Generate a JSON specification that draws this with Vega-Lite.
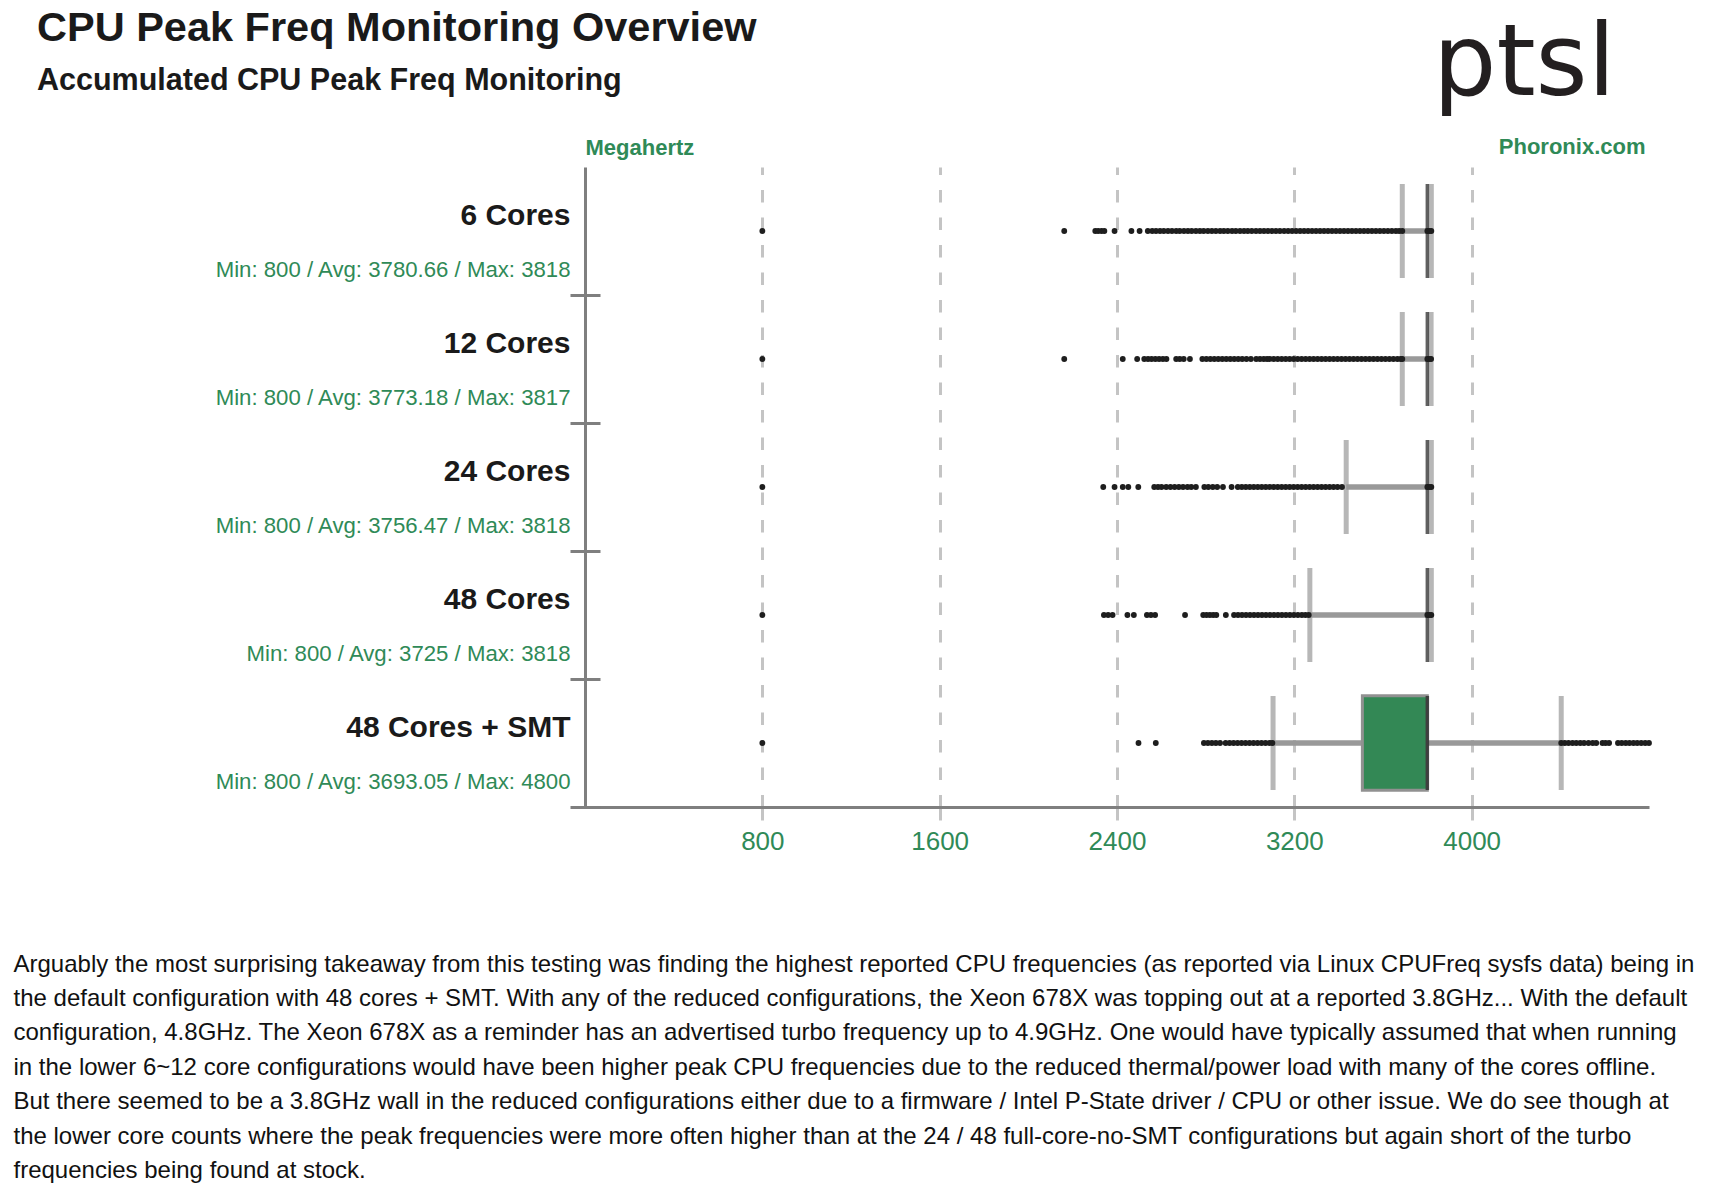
{
  "$schema": "https://vega.github.io/schema/vega-lite/v6.json",
  "width": 1064,
  "height": 640,
  "autosize": {"type": "none"},
  "padding": {"left": 585, "top": 167, "right": 62, "bottom": 387},
  "background": "white",
  "title": {
    "text": "CPU Peak Freq Monitoring Overview",
    "subtitle": "Accumulated CPU Peak Freq Monitoring",
    "anchor": "start",
    "frame": "group",
    "dx": -548,
    "offset": -82,
    "font": "Liberation Sans",
    "fontSize": 41.5,
    "fontWeight": "bold",
    "color": "#1a1a1a",
    "subtitleFont": "Liberation Sans",
    "subtitleFontSize": 30.5,
    "subtitleFontWeight": "bold",
    "subtitleColor": "#1a1a1a",
    "subtitlePadding": 16
  },
  "datasets": {
    "stats": [
      {"config": "6 Cores", "lo": 3687, "q1": 3800, "med": 3800, "q3": 3800, "hi": 3818},
      {"config": "12 Cores", "lo": 3687, "q1": 3800, "med": 3800, "q3": 3800, "hi": 3817},
      {"config": "24 Cores", "lo": 3434, "q1": 3800, "med": 3800, "q3": 3800, "hi": 3818},
      {"config": "48 Cores", "lo": 3270, "q1": 3800, "med": 3800, "q3": 3800, "hi": 3818},
      {"config": "48 Cores + SMT", "lo": 3104, "q1": 3507, "med": 3800, "q3": 3800, "hi": 4404}
    ],
    "pts": [
      {"config": "6 Cores", "mhz": 800}, {"config": "6 Cores", "mhz": 2162}, {"config": "6 Cores", "mhz": 2302}, {"config": "6 Cores", "mhz": 2315},
      {"config": "6 Cores", "mhz": 2330}, {"config": "6 Cores", "mhz": 2343}, {"config": "6 Cores", "mhz": 2389}, {"config": "6 Cores", "mhz": 2465},
      {"config": "6 Cores", "mhz": 2502}, {"config": "6 Cores", "mhz": 2539}, {"config": "6 Cores", "mhz": 2559}, {"config": "6 Cores", "mhz": 2576},
      {"config": "6 Cores", "mhz": 2594}, {"config": "6 Cores", "mhz": 2611}, {"config": "6 Cores", "mhz": 2630}, {"config": "6 Cores", "mhz": 2648},
      {"config": "6 Cores", "mhz": 2667}, {"config": "6 Cores", "mhz": 2683}, {"config": "6 Cores", "mhz": 2702}, {"config": "6 Cores", "mhz": 2720},
      {"config": "6 Cores", "mhz": 2737}, {"config": "6 Cores", "mhz": 2756}, {"config": "6 Cores", "mhz": 2774}, {"config": "6 Cores", "mhz": 2791},
      {"config": "6 Cores", "mhz": 2810}, {"config": "6 Cores", "mhz": 2828}, {"config": "6 Cores", "mhz": 2846}, {"config": "6 Cores", "mhz": 2865},
      {"config": "6 Cores", "mhz": 2882}, {"config": "6 Cores", "mhz": 2900}, {"config": "6 Cores", "mhz": 2919}, {"config": "6 Cores", "mhz": 2936},
      {"config": "6 Cores", "mhz": 2955}, {"config": "6 Cores", "mhz": 2973}, {"config": "6 Cores", "mhz": 2990}, {"config": "6 Cores", "mhz": 3008},
      {"config": "6 Cores", "mhz": 3027}, {"config": "6 Cores", "mhz": 3045}, {"config": "6 Cores", "mhz": 3063}, {"config": "6 Cores", "mhz": 3081},
      {"config": "6 Cores", "mhz": 3099}, {"config": "6 Cores", "mhz": 3117}, {"config": "6 Cores", "mhz": 3135}, {"config": "6 Cores", "mhz": 3154},
      {"config": "6 Cores", "mhz": 3172}, {"config": "6 Cores", "mhz": 3190}, {"config": "6 Cores", "mhz": 3208}, {"config": "6 Cores", "mhz": 3226},
      {"config": "6 Cores", "mhz": 3244}, {"config": "6 Cores", "mhz": 3262}, {"config": "6 Cores", "mhz": 3280}, {"config": "6 Cores", "mhz": 3298},
      {"config": "6 Cores", "mhz": 3316}, {"config": "6 Cores", "mhz": 3334}, {"config": "6 Cores", "mhz": 3352}, {"config": "6 Cores", "mhz": 3370},
      {"config": "6 Cores", "mhz": 3388}, {"config": "6 Cores", "mhz": 3406}, {"config": "6 Cores", "mhz": 3424}, {"config": "6 Cores", "mhz": 3442},
      {"config": "6 Cores", "mhz": 3460}, {"config": "6 Cores", "mhz": 3478}, {"config": "6 Cores", "mhz": 3496}, {"config": "6 Cores", "mhz": 3514},
      {"config": "6 Cores", "mhz": 3532}, {"config": "6 Cores", "mhz": 3550}, {"config": "6 Cores", "mhz": 3568}, {"config": "6 Cores", "mhz": 3586},
      {"config": "6 Cores", "mhz": 3604}, {"config": "6 Cores", "mhz": 3622}, {"config": "6 Cores", "mhz": 3640}, {"config": "6 Cores", "mhz": 3658},
      {"config": "6 Cores", "mhz": 3673}, {"config": "6 Cores", "mhz": 3687}, {"config": "6 Cores", "mhz": 3800}, {"config": "6 Cores", "mhz": 3809},
      {"config": "6 Cores", "mhz": 3818},

      {"config": "12 Cores", "mhz": 800}, {"config": "12 Cores", "mhz": 2162}, {"config": "12 Cores", "mhz": 2426}, {"config": "12 Cores", "mhz": 2491},
      {"config": "12 Cores", "mhz": 2523}, {"config": "12 Cores", "mhz": 2540}, {"config": "12 Cores", "mhz": 2556}, {"config": "12 Cores", "mhz": 2573},
      {"config": "12 Cores", "mhz": 2590}, {"config": "12 Cores", "mhz": 2607}, {"config": "12 Cores", "mhz": 2623}, {"config": "12 Cores", "mhz": 2667},
      {"config": "12 Cores", "mhz": 2683}, {"config": "12 Cores", "mhz": 2701}, {"config": "12 Cores", "mhz": 2729}, {"config": "12 Cores", "mhz": 2785},
      {"config": "12 Cores", "mhz": 2803}, {"config": "12 Cores", "mhz": 2821}, {"config": "12 Cores", "mhz": 2839}, {"config": "12 Cores", "mhz": 2857},
      {"config": "12 Cores", "mhz": 2875}, {"config": "12 Cores", "mhz": 2893}, {"config": "12 Cores", "mhz": 2911}, {"config": "12 Cores", "mhz": 2929},
      {"config": "12 Cores", "mhz": 2947}, {"config": "12 Cores", "mhz": 2965}, {"config": "12 Cores", "mhz": 2984}, {"config": "12 Cores", "mhz": 3004},
      {"config": "12 Cores", "mhz": 3028}, {"config": "12 Cores", "mhz": 3045}, {"config": "12 Cores", "mhz": 3062}, {"config": "12 Cores", "mhz": 3077},
      {"config": "12 Cores", "mhz": 3089}, {"config": "12 Cores", "mhz": 3107}, {"config": "12 Cores", "mhz": 3125}, {"config": "12 Cores", "mhz": 3143},
      {"config": "12 Cores", "mhz": 3161}, {"config": "12 Cores", "mhz": 3179}, {"config": "12 Cores", "mhz": 3197}, {"config": "12 Cores", "mhz": 3215},
      {"config": "12 Cores", "mhz": 3233}, {"config": "12 Cores", "mhz": 3251}, {"config": "12 Cores", "mhz": 3269}, {"config": "12 Cores", "mhz": 3287},
      {"config": "12 Cores", "mhz": 3305}, {"config": "12 Cores", "mhz": 3323}, {"config": "12 Cores", "mhz": 3341}, {"config": "12 Cores", "mhz": 3359},
      {"config": "12 Cores", "mhz": 3377}, {"config": "12 Cores", "mhz": 3395}, {"config": "12 Cores", "mhz": 3413}, {"config": "12 Cores", "mhz": 3431},
      {"config": "12 Cores", "mhz": 3449}, {"config": "12 Cores", "mhz": 3467}, {"config": "12 Cores", "mhz": 3485}, {"config": "12 Cores", "mhz": 3503},
      {"config": "12 Cores", "mhz": 3521}, {"config": "12 Cores", "mhz": 3539}, {"config": "12 Cores", "mhz": 3557}, {"config": "12 Cores", "mhz": 3575},
      {"config": "12 Cores", "mhz": 3593}, {"config": "12 Cores", "mhz": 3611}, {"config": "12 Cores", "mhz": 3629}, {"config": "12 Cores", "mhz": 3647},
      {"config": "12 Cores", "mhz": 3665}, {"config": "12 Cores", "mhz": 3680}, {"config": "12 Cores", "mhz": 3687}, {"config": "12 Cores", "mhz": 3800},
      {"config": "12 Cores", "mhz": 3809}, {"config": "12 Cores", "mhz": 3817},

      {"config": "24 Cores", "mhz": 800}, {"config": "24 Cores", "mhz": 2338}, {"config": "24 Cores", "mhz": 2389}, {"config": "24 Cores", "mhz": 2426},
      {"config": "24 Cores", "mhz": 2451}, {"config": "24 Cores", "mhz": 2496}, {"config": "24 Cores", "mhz": 2568}, {"config": "24 Cores", "mhz": 2585},
      {"config": "24 Cores", "mhz": 2601}, {"config": "24 Cores", "mhz": 2622}, {"config": "24 Cores", "mhz": 2641}, {"config": "24 Cores", "mhz": 2660},
      {"config": "24 Cores", "mhz": 2679}, {"config": "24 Cores", "mhz": 2698}, {"config": "24 Cores", "mhz": 2718}, {"config": "24 Cores", "mhz": 2735},
      {"config": "24 Cores", "mhz": 2756}, {"config": "24 Cores", "mhz": 2794}, {"config": "24 Cores", "mhz": 2812}, {"config": "24 Cores", "mhz": 2832},
      {"config": "24 Cores", "mhz": 2852}, {"config": "24 Cores", "mhz": 2878}, {"config": "24 Cores", "mhz": 2917}, {"config": "24 Cores", "mhz": 2945},
      {"config": "24 Cores", "mhz": 2963}, {"config": "24 Cores", "mhz": 2981}, {"config": "24 Cores", "mhz": 2999}, {"config": "24 Cores", "mhz": 3017},
      {"config": "24 Cores", "mhz": 3035}, {"config": "24 Cores", "mhz": 3053}, {"config": "24 Cores", "mhz": 3071}, {"config": "24 Cores", "mhz": 3089},
      {"config": "24 Cores", "mhz": 3107}, {"config": "24 Cores", "mhz": 3125}, {"config": "24 Cores", "mhz": 3143}, {"config": "24 Cores", "mhz": 3161},
      {"config": "24 Cores", "mhz": 3179}, {"config": "24 Cores", "mhz": 3197}, {"config": "24 Cores", "mhz": 3215}, {"config": "24 Cores", "mhz": 3233},
      {"config": "24 Cores", "mhz": 3251}, {"config": "24 Cores", "mhz": 3269}, {"config": "24 Cores", "mhz": 3287}, {"config": "24 Cores", "mhz": 3305},
      {"config": "24 Cores", "mhz": 3323}, {"config": "24 Cores", "mhz": 3341}, {"config": "24 Cores", "mhz": 3359}, {"config": "24 Cores", "mhz": 3377},
      {"config": "24 Cores", "mhz": 3395}, {"config": "24 Cores", "mhz": 3415}, {"config": "24 Cores", "mhz": 3800}, {"config": "24 Cores", "mhz": 3809},
      {"config": "24 Cores", "mhz": 3818},

      {"config": "48 Cores", "mhz": 800}, {"config": "48 Cores", "mhz": 2341}, {"config": "48 Cores", "mhz": 2360}, {"config": "48 Cores", "mhz": 2380},
      {"config": "48 Cores", "mhz": 2447}, {"config": "48 Cores", "mhz": 2476}, {"config": "48 Cores", "mhz": 2535}, {"config": "48 Cores", "mhz": 2553},
      {"config": "48 Cores", "mhz": 2572}, {"config": "48 Cores", "mhz": 2707}, {"config": "48 Cores", "mhz": 2789}, {"config": "48 Cores", "mhz": 2804},
      {"config": "48 Cores", "mhz": 2819}, {"config": "48 Cores", "mhz": 2834}, {"config": "48 Cores", "mhz": 2848}, {"config": "48 Cores", "mhz": 2891},
      {"config": "48 Cores", "mhz": 2928}, {"config": "48 Cores", "mhz": 2946}, {"config": "48 Cores", "mhz": 2964}, {"config": "48 Cores", "mhz": 2982},
      {"config": "48 Cores", "mhz": 3000}, {"config": "48 Cores", "mhz": 3018}, {"config": "48 Cores", "mhz": 3036}, {"config": "48 Cores", "mhz": 3054},
      {"config": "48 Cores", "mhz": 3072}, {"config": "48 Cores", "mhz": 3090}, {"config": "48 Cores", "mhz": 3108}, {"config": "48 Cores", "mhz": 3126},
      {"config": "48 Cores", "mhz": 3144}, {"config": "48 Cores", "mhz": 3162}, {"config": "48 Cores", "mhz": 3180}, {"config": "48 Cores", "mhz": 3198},
      {"config": "48 Cores", "mhz": 3216}, {"config": "48 Cores", "mhz": 3234}, {"config": "48 Cores", "mhz": 3250}, {"config": "48 Cores", "mhz": 3265},
      {"config": "48 Cores", "mhz": 3800}, {"config": "48 Cores", "mhz": 3809}, {"config": "48 Cores", "mhz": 3818},

      {"config": "48 Cores + SMT", "mhz": 800}, {"config": "48 Cores + SMT", "mhz": 2497}, {"config": "48 Cores + SMT", "mhz": 2575},
      {"config": "48 Cores + SMT", "mhz": 2792}, {"config": "48 Cores + SMT", "mhz": 2810}, {"config": "48 Cores + SMT", "mhz": 2828},
      {"config": "48 Cores + SMT", "mhz": 2846}, {"config": "48 Cores + SMT", "mhz": 2865}, {"config": "48 Cores + SMT", "mhz": 2890},
      {"config": "48 Cores + SMT", "mhz": 2908}, {"config": "48 Cores + SMT", "mhz": 2926}, {"config": "48 Cores + SMT", "mhz": 2944},
      {"config": "48 Cores + SMT", "mhz": 2962}, {"config": "48 Cores + SMT", "mhz": 2980}, {"config": "48 Cores + SMT", "mhz": 2998},
      {"config": "48 Cores + SMT", "mhz": 3016}, {"config": "48 Cores + SMT", "mhz": 3034}, {"config": "48 Cores + SMT", "mhz": 3052},
      {"config": "48 Cores + SMT", "mhz": 3070}, {"config": "48 Cores + SMT", "mhz": 3088}, {"config": "48 Cores + SMT", "mhz": 3101},
      {"config": "48 Cores + SMT", "mhz": 4404}, {"config": "48 Cores + SMT", "mhz": 4420}, {"config": "48 Cores + SMT", "mhz": 4437},
      {"config": "48 Cores + SMT", "mhz": 4455}, {"config": "48 Cores + SMT", "mhz": 4472}, {"config": "48 Cores + SMT", "mhz": 4490},
      {"config": "48 Cores + SMT", "mhz": 4507}, {"config": "48 Cores + SMT", "mhz": 4527}, {"config": "48 Cores + SMT", "mhz": 4546},
      {"config": "48 Cores + SMT", "mhz": 4562}, {"config": "48 Cores + SMT", "mhz": 4590}, {"config": "48 Cores + SMT", "mhz": 4604},
      {"config": "48 Cores + SMT", "mhz": 4620}, {"config": "48 Cores + SMT", "mhz": 4660}, {"config": "48 Cores + SMT", "mhz": 4677},
      {"config": "48 Cores + SMT", "mhz": 4695}, {"config": "48 Cores + SMT", "mhz": 4712}, {"config": "48 Cores + SMT", "mhz": 4730},
      {"config": "48 Cores + SMT", "mhz": 4747}, {"config": "48 Cores + SMT", "mhz": 4765}, {"config": "48 Cores + SMT", "mhz": 4783},
      {"config": "48 Cores + SMT", "mhz": 4800}
    ]
  },
  "resolve": {"axis": {"x": "independent", "y": "independent"}},
  "layer": [
    {
      "data": {"name": "stats"},
      "mark": {"type": "rule", "color": "#999999", "strokeWidth": 5.5},
      "encoding": {
        "x": {
          "field": "lo",
          "type": "quantitative",
          "scale": {"domain": [0, 4800], "nice": false, "zero": false},
          "axis": {
            "orient": "bottom",
            "values": [800, 1600, 2400, 3200, 4000],
            "format": "d",
            "grid": true,
            "gridDash": [12.5, 15],
            "gridColor": "#c4c4c4",
            "gridWidth": 3,
            "domainColor": "#7f7f7f",
            "domainWidth": 3,
            "ticks": true,
            "tickSize": 13,
            "tickColor": "#c4c4c4",
            "tickWidth": 3,
            "labelFont": "Liberation Sans",
            "labelFontSize": 26,
            "labelColor": "#2f8a57",
            "labelPadding": 8,
            "labelFlush": false,
            "title": [
              "Arguably the most surprising takeaway from this testing was finding the highest reported CPU frequencies (as reported via Linux CPUFreq sysfs data) being in",
              "the default configuration with 48 cores + SMT. With any of the reduced configurations, the Xeon 678X was topping out at a reported 3.8GHz... With the default",
              "configuration, 4.8GHz. The Xeon 678X as a reminder has an advertised turbo frequency up to 4.9GHz. One would have typically assumed that when running",
              "in the lower 6~12 core configurations would have been higher peak CPU frequencies due to the reduced thermal/power load with many of the cores offline.",
              "But there seemed to be a 3.8GHz wall in the reduced configurations either due to a firmware / Intel P-State driver / CPU or other issue. We do see though at",
              "the lower core counts where the peak frequencies were more often higher than at the 24 / 48 full-core-no-SMT configurations but again short of the turbo",
              "frequencies being found at stock."
            ],
            "titleFont": "Liberation Sans",
            "titleFontSize": 24,
            "titleFontWeight": "normal",
            "titleColor": "#111111",
            "titleAlign": "left",
            "titleAnchor": "start",
            "titleBaseline": "alphabetic",
            "titleX": -572,
            "titleY": 164,
            "titleLineHeight": 34.4,
            "titleLimit": 2000
          }
        },
        "x2": {"field": "hi"},
        "y": {
          "field": "config",
          "type": "nominal",
          "scale": {"domain": ["6 Cores", "12 Cores", "24 Cores", "48 Cores", "48 Cores + SMT"], "paddingInner": 0, "paddingOuter": 0},
          "axis": {
            "orient": "left",
            "title": null,
            "ticks": false,
            "grid": false,
            "domain": true,
            "domainColor": "#7f7f7f",
            "domainWidth": 3,
            "labelFont": "Liberation Sans",
            "labelFontSize": 30,
            "labelFontWeight": "bold",
            "labelColor": "#1a1a1a",
            "labelPadding": 15,
            "labelOffset": -6.5,
            "labelBaseline": "alphabetic",
            "labelAlign": "right",
            "labelLimit": 600
          }
        }
      }
    },
    {
      "data": {"name": "stats"},
      "mark": {"type": "tick", "color": "#999999", "thickness": 5, "size": 94},
      "encoding": {
        "x": {
          "field": "lo",
          "type": "quantitative",
          "axis": {
            "orient": "top",
            "labels": false,
            "ticks": false,
            "domain": false,
            "grid": false,
            "title": "Megahertz",
            "titleFont": "Liberation Sans",
            "titleFontSize": 22,
            "titleFontWeight": "bold",
            "titleColor": "#2f8a57",
            "titleAlign": "left",
            "titleAnchor": "start",
            "titleBaseline": "alphabetic",
            "titleX": 0,
            "titleY": -13
          }
        },
        "y": {
          "field": "config",
          "type": "nominal",
          "axis": {
            "orient": "left",
            "title": null,
            "ticks": false,
            "grid": false,
            "domain": false,
            "labelExpr": "datum.value == '6 Cores' ? 'Min: 800 / Avg: 3780.66 / Max: 3818' : datum.value == '12 Cores' ? 'Min: 800 / Avg: 3773.18 / Max: 3817' : datum.value == '24 Cores' ? 'Min: 800 / Avg: 3756.47 / Max: 3818' : datum.value == '48 Cores' ? 'Min: 800 / Avg: 3725 / Max: 3818' : 'Min: 800 / Avg: 3693.05 / Max: 4800'",
            "labelFont": "Liberation Sans",
            "labelFontSize": 22.2,
            "labelColor": "#2f8a57",
            "labelPadding": 15,
            "labelOffset": 46,
            "labelBaseline": "alphabetic",
            "labelAlign": "right",
            "labelLimit": 600
          }
        }
      }
    },
    {
      "data": {"name": "stats"},
      "mark": {"type": "tick", "color": "#999999", "thickness": 5, "size": 94},
      "encoding": {
        "x": {
          "field": "hi",
          "type": "quantitative",
          "axis": {
            "orient": "top",
            "labels": false,
            "ticks": false,
            "domain": false,
            "grid": false,
            "title": "Phoronix.com",
            "titleFont": "Liberation Sans",
            "titleFontSize": 22,
            "titleFontWeight": "bold",
            "titleColor": "#2f8a57",
            "titleAlign": "right",
            "titleAnchor": "end",
            "titleBaseline": "alphabetic",
            "titleX": 1060,
            "titleY": -13.7
          }
        },
        "y": {
          "field": "config",
          "type": "nominal",
          "axis": {
            "orient": "left",
            "title": null,
            "values": ["12 Cores", "24 Cores", "48 Cores", "48 Cores + SMT"],
            "tickBand": "extent",
            "tickExtra": false,
            "tickSize": 30,
            "tickColor": "#7f7f7f",
            "tickWidth": 3,
            "offset": -15,
            "labels": false,
            "domain": false,
            "grid": false
          }
        }
      }
    },
    {
      "data": {"name": "stats"},
      "transform": [{"filter": "datum.q3 > datum.q1"}],
      "mark": {"type": "bar", "color": "#338855", "stroke": "#919191", "strokeWidth": 3, "height": {"band": 0.74}},
      "encoding": {
        "x": {
          "field": "q1",
          "type": "quantitative",
          "axis": {
            "orient": "top",
            "labels": false,
            "ticks": false,
            "domain": false,
            "grid": false,
            "title": "ptsl",
            "titleFont": "DejaVu Sans",
            "titleFontSize": 100,
            "titleFontWeight": "normal",
            "titleColor": "#231f20",
            "titleAlign": "right",
            "titleAnchor": "end",
            "titleBaseline": "alphabetic",
            "titleX": 1030,
            "titleY": -73
          }
        },
        "x2": {"field": "q3"},
        "y": {"field": "config", "type": "nominal", "axis": null}
      }
    },
    {
      "data": {"name": "stats"},
      "mark": {"type": "tick", "color": "#1c1c1c", "thickness": 3.5, "size": 94},
      "encoding": {
        "x": {"field": "med", "type": "quantitative", "axis": null},
        "y": {"field": "config", "type": "nominal", "axis": null}
      }
    },
    {
      "data": {"name": "pts"},
      "mark": {"type": "circle", "color": "#1e1e1e", "opacity": 1, "size": 34},
      "encoding": {
        "x": {"field": "mhz", "type": "quantitative", "axis": null},
        "y": {"field": "config", "type": "nominal", "axis": null}
      }
    }
  ],
  "config": {
    "view": {"stroke": null}
  }
}
